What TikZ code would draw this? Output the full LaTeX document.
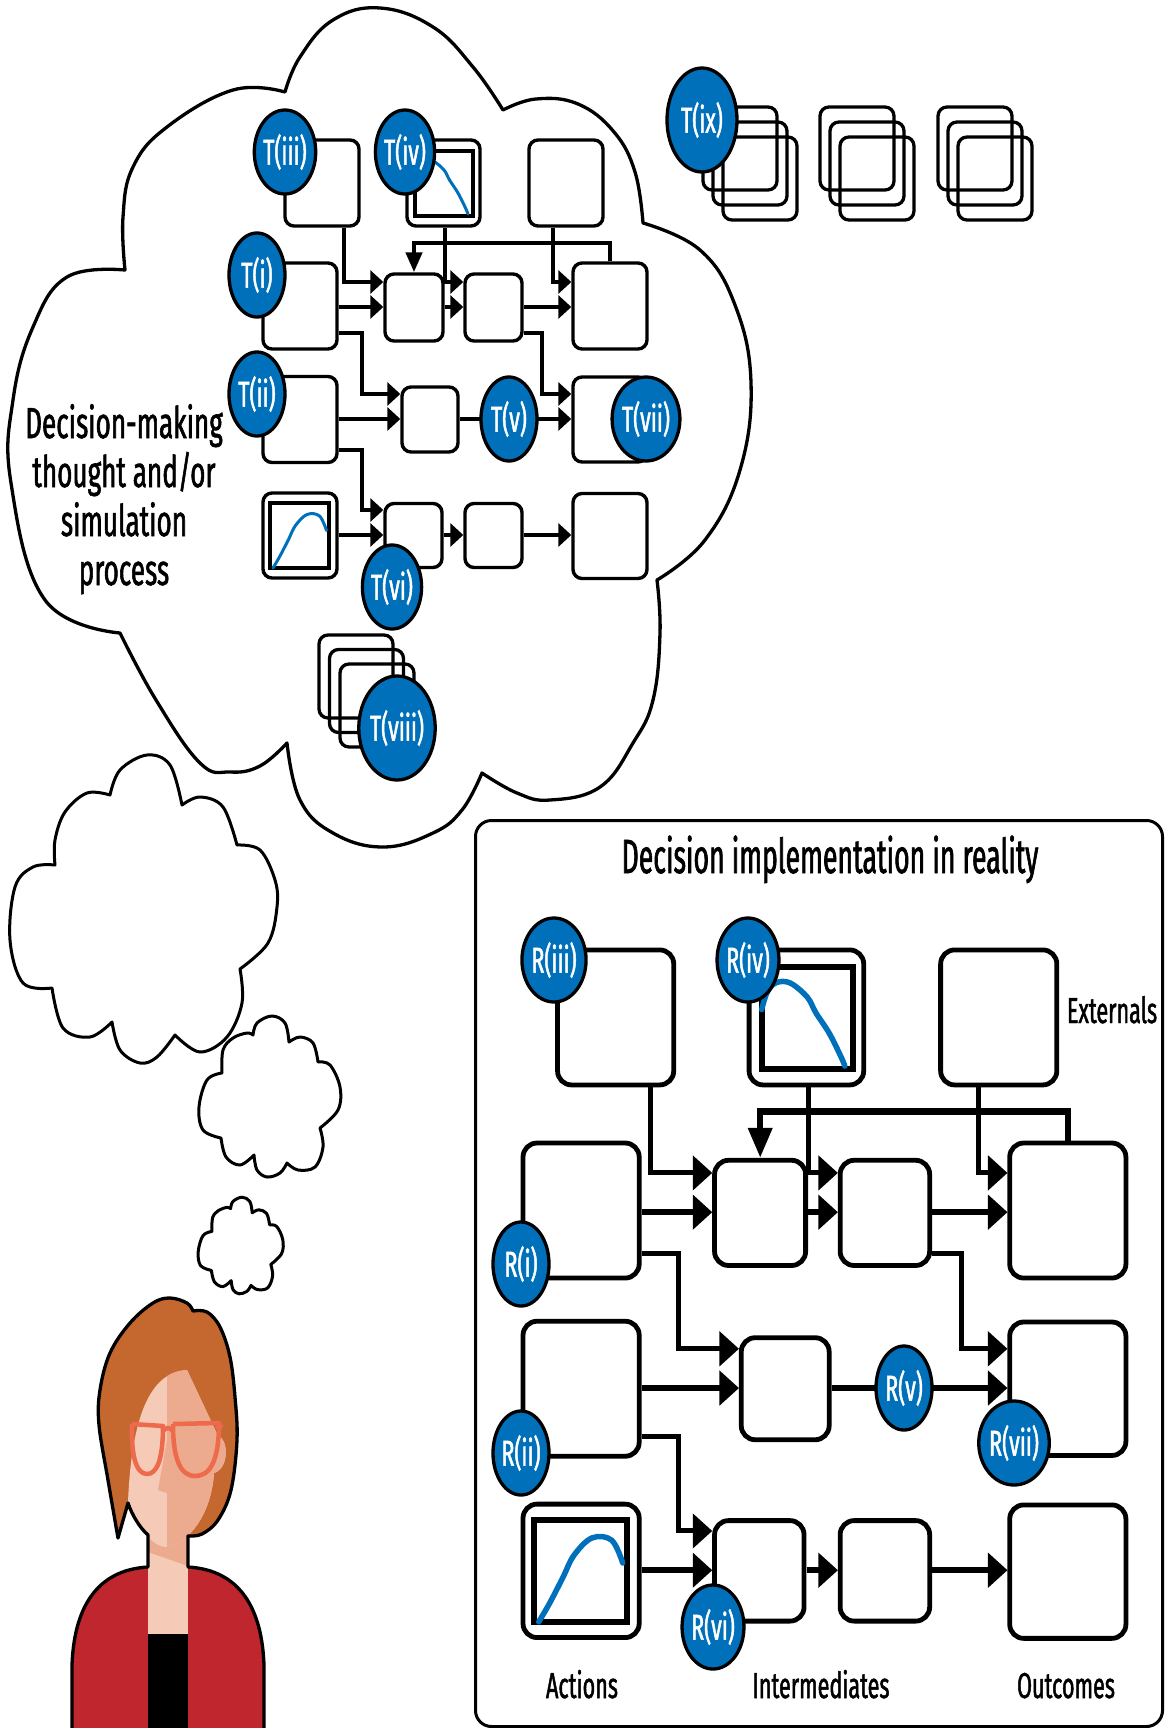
\documentclass[tikz,border=0pt]{standalone}
\usepackage{fontspec}
\setmainfont{Fira Sans}[FakeStretch=0.6, FakeBold=1.3]
\newfontfamily\headfamily{Fira Sans}[FakeStretch=0.555, FakeBold=1.3]
\usetikzlibrary{shapes.geometric, arrows.meta, calc}

\definecolor{tagblue}{RGB}{0,112,187}
\definecolor{hair}{RGB}{197,104,47}
\definecolor{skin}{RGB}{245,202,182}
\definecolor{skinshade}{RGB}{236,170,143}
\definecolor{specs}{RGB}{238,106,76}
\definecolor{jacket}{RGB}{192,38,46}

\newcommand\fnttitle{\headfamily\fontsize{48}{56}\selectfont}
\newcommand\fntcloud{\fontsize{43.5}{50}\selectfont}
\newcommand\fntlabel{\fontsize{36}{42}\selectfont}
\newcommand\fnttag{\fontsize{36}{42}\selectfont}

% per-diagram dimensions (overridden inside each scope)
\def\fcS{1}\def\fcBox{3.4pt}\def\fcRad{9pt}\def\fcConn{3.4pt}\def\fcMain{4.4pt}
\def\fcArL{13pt}\def\fcArW{23pt}\def\fcDnL{20pt}\def\fcDnW{16pt}\def\fcIn{3.8pt}\def\fcCurve{3pt}

\tikzset{
  cloudline/.style={draw=black, fill=white, line width=3.3pt, line join=round},
  box/.style 2 args={draw=black, fill=white, line width=\fcBox, rounded corners=\fcRad,
    inner sep=0pt, minimum width=#1*\fcS*1pt, minimum height=#2*\fcS*1pt},
  conn/.style={draw=black, line width=\fcConn, -{Triangle[length=\fcArL, width=\fcArW]}},
  mainconn/.style={conn, line width=\fcMain},
  feedback/.style={draw=black, line width=\fcMain, -{Triangle[length=\fcDnL, width=\fcDnW]}},
  chartframe/.style={draw=black, line width=\fcIn},
  chartline/.style={draw=tagblue, line width=\fcCurve, line cap=round, line join=round},
  tag/.style={ellipse, draw=black, fill=tagblue, line width=3.3pt, inner sep=0pt,
    minimum width=56pt, minimum height=84pt, text=white, font=\fnttag},
  bigtag/.style={tag, minimum width=70pt, minimum height=104pt},
  stackbox/.style={draw=black, line width=3.3pt, rounded corners=9pt, inner sep=0pt,
    minimum width=74pt, minimum height=83pt},
  caption/.style={anchor=base, text=black},
}

% flow of actions -> intermediates -> outcomes, drawn in the coordinates of the small copy
\newcommand\flowchart[1]{%
  \coordinate (#1r1a) at (0,282);
  \coordinate (#1r1b) at (0,307);
  \coordinate (#1r1c) at (0,333);
  \coordinate (#1r2a) at (0,394);
  \coordinate (#1r2b) at (0,419);
  \coordinate (#1r2c) at (0,450);
  \coordinate (#1r3a) at (0,510);
  \coordinate (#1r3b) at (0,535);
  \coordinate (#1fb)  at (0,243);
  \coordinate (#1c1) at (344,0);
  \coordinate (#1c2) at (445,0);
  \coordinate (#1c3) at (553,0);
  \coordinate (#1c4) at (362,0);
  \coordinate (#1c5) at (542,0);
  % externals
  \node[box={74}{86}] (#1ext1) at (322,183) {};
  \node[box={73}{86}] (#1ext2) at (443.5,183) {};
  \node[box={74}{86}] (#1ext3) at (566,183) {};
  % actions
  \node[box={74}{86}] (#1act1) at (300,306) {};
  \node[box={74}{86}] (#1act2) at (300,419.5) {};
  \node[box={74}{85}] (#1act3) at (300,535.5) {};
  % intermediates
  \node[box={58}{67}] (#1midA) at (414,307.5) {};
  \node[box={57}{67}] (#1midB) at (493.5,307.5) {};
  \node[box={56}{65}] (#1midD) at (430,419.5) {};
  \node[box={57}{64}] (#1midG) at (413.5,535.5) {};
  \node[box={57}{64}] (#1midH) at (493.5,535.5) {};
  % outcomes
  \node[box={74}{86}] (#1out1) at (610,306) {};
  \node[box={74}{85}] (#1out2) at (610,419.5) {};
  \node[box={74}{85}] (#1out3) at (610,536) {};
  % small charts
  \draw[chartframe] (415,151) rectangle (473,216);
  \draw[chartline] plot[smooth, tension=0.6] coordinates {(415,178) (418.5,167) (424,161) (433,161) (444,170) (449.5,180) (458,193) (465.5,208) (468,214)};
  \draw[chartframe] (270,503) rectangle (329,568);
  \draw[chartline] plot[smooth, tension=0.6] coordinates {(273,568) (280,556) (288.5,539.5) (295.5,525.5) (307,514.5) (319.5,516) (326.5,530.5)};
  % connectors
  \draw[conn] (#1ext1.south -| #1c1) |- (#1midA.west |- #1r1a);
  \draw[conn] (#1ext2.south -| #1c2) |- (#1midB.west |- #1r1a);
  \draw[conn] (#1ext3.south -| #1c3) |- (#1out1.west |- #1r1a);
  \draw[mainconn] (#1act1.east |- #1r1b) -- (#1midA.west |- #1r1b);
  \draw[mainconn] (#1midA.east |- #1r1b) -- (#1midB.west |- #1r1b);
  \draw[mainconn] (#1midB.east |- #1r1b) -- (#1out1.west |- #1r1b);
  \draw[conn] (#1act1.east |- #1r1c) -| (#1c4 |- #1r2a) -- (#1midD.west |- #1r2a);
  \draw[conn] (#1midB.east |- #1r1c) -| (#1c5 |- #1r2a) -- (#1out2.west |- #1r2a);
  \draw[mainconn] (#1act2.east |- #1r2b) -- (#1midD.west |- #1r2b);
  \draw[mainconn] (#1midD.east |- #1r2b) -- (#1out2.west |- #1r2b);
  \draw[conn] (#1act2.east |- #1r2c) -| (#1c4 |- #1r3a) -- (#1midG.west |- #1r3a);
  \draw[mainconn] (#1act3.east |- #1r3b) -- (#1midG.west |- #1r3b);
  \draw[mainconn] (#1midG.east |- #1r3b) -- (#1midH.west |- #1r3b);
  \draw[mainconn] (#1midH.east |- #1r3b) -- (#1out3.west |- #1r3b);
  \draw[feedback] (#1out1.north) |- (#1midA.north |- #1fb) -- (#1midA.north);
}

% small thought bubble outline
\newcommand\puffcloud{%
  \draw[cloudline, line width=3pt]
    plot[smooth, tension=0.6] coordinates {(222,1073) (223,1050) (233,1038) (247,1033) (253,1035)}
    -- plot[smooth, tension=0.6] coordinates {(253,1035) (257,1023) (272,1016) (285,1023) (289,1042)}
    -- plot[smooth, tension=0.6] coordinates {(289,1042) (300,1037) (313,1043) (318,1062)}
    -- plot[smooth, tension=0.6] coordinates {(318,1062) (330,1065) (340,1087) (338,1110) (320,1128)}
    -- plot[smooth, tension=0.6] coordinates {(320,1128) (323,1147) (315,1167) (298,1170) (287,1163)}
    -- plot[smooth, tension=0.6] coordinates {(287,1163) (280,1173) (267,1177) (257,1170) (254,1155)}
    -- plot[smooth, tension=0.6] coordinates {(254,1155) (240,1165) (226,1157) (221,1138)}
    -- plot[smooth, tension=0.6] coordinates {(221,1138) (203,1130) (199,1107) (207,1080) (222,1073)}
    -- cycle;
}

\newcommand\facepath{(187,1370) -- (218,1436) .. controls (228,1438) and (230,1468) .. (214,1473)
  .. controls (212,1505) and (196,1540) .. (167,1547) .. controls (152,1547) and (138,1528) .. (128,1502)
  .. controls (131,1430) and (145,1372) .. (187,1370) -- cycle}

\begin{document}
\begin{tikzpicture}[x=1pt, y=-1pt]
\useasboundingbox (0,0) rectangle (1165,1728);
\fill[white] (0,0) rectangle (1165,1728);

% ---------- large thought cloud ----------
\draw[cloudline]
  plot[smooth, tension=0.7] coordinates {(125,270) (123,217) (133,167) (167,127) (233,90) (285,92)}
  -- plot[smooth, tension=0.7] coordinates {(285,92) (300,57) (333,20) (380,8) (433,27) (473,67) (503,110)}
  -- plot[smooth, tension=0.7] coordinates {(503,110) (536,99) (578,104) (614,132) (635,172) (643,223)}
  -- plot[smooth, tension=0.7] coordinates {(643,223) (700,250) (735,305) (751,383) (740,470) (705,540) (657,580)}
  -- plot[smooth, tension=0.7] coordinates {(657,580) (660,633) (653,700) (633,743) (600,787) (550,800) (517,793) (482,773)}
  -- plot[smooth, tension=0.7] coordinates {(482,773) (462,810) (433,833) (383,847) (333,833) (300,800) (287,743)}
  -- plot[smooth, tension=0.7] coordinates {(287,743) (260,766) (230,772) (200,763) (156,700) (120,633)}
  -- plot[smooth, tension=0.7] coordinates {(120,633) (45,600) (11,483) (13,400) (33,327) (67,277) (125,270)}
  -- cycle;

% ---------- smaller thought clouds ----------
\draw[cloudline, line width=3pt]
  plot[smooth, tension=0.6] coordinates {(55,865) (55,840) (65,812) (87,793) (110,795)}
  -- plot[smooth, tension=0.6] coordinates {(110,795) (120,770) (147,755) (170,765) (182,805)}
  -- plot[smooth, tension=0.6] coordinates {(182,805) (200,797) (223,807) (237,845)}
  -- plot[smooth, tension=0.6] coordinates {(237,845) (260,850) (275,880) (277,907) (268,943) (240,969)}
  -- plot[smooth, tension=0.6] coordinates {(240,969) (242,1003) (227,1037) (200,1052) (175,1035)}
  -- plot[smooth, tension=0.6] coordinates {(175,1035) (157,1057) (140,1063) (120,1050) (112,1022)}
  -- plot[smooth, tension=0.6] coordinates {(112,1022) (90,1037) (63,1028) (52,988)}
  -- plot[smooth, tension=0.6] coordinates {(52,988) (23,983) (10,940) (15,887) (33,867) (55,865)}
  -- cycle;
\puffcloud
\begin{scope}[shift={(78.8,587.6)}, scale=0.6]
  \puffcloud
\end{scope}

% ---------- person ----------
\fill[hair]
  plot[smooth, tension=0.6] coordinates {(118,1538) (108,1480) (99,1425) (100,1390) (110,1353) (130,1323) (153,1303) (170,1298) (187,1303) (193,1311)}
  -- plot[smooth, tension=0.6] coordinates {(193,1311) (207,1312) (220,1327) (230,1357) (235,1397) (237,1440) (231,1490) (218,1520) (202,1534) (188,1536)}
  -- (188,1545) -- (148,1545) -- (148,1535) -- (128,1503) -- cycle;
\fill[skin] (148,1525) rectangle (188,1634);
\fill[skinshade] (148,1525) -- (188,1525) -- (188,1566) -- (148,1552) -- cycle;
\fill[skin] \facepath;
\begin{scope}
  \clip \facepath;
  \fill[skinshade] (167,1360) -- (240,1360) -- (240,1560) -- (167,1560) -- (167,1493) -- (158,1490) -- (167,1440) -- cycle;
\end{scope}
\begin{scope}[draw=specs, line width=4.5pt, line join=round]
  \draw (132,1424) -- (163,1426) .. controls (163,1462) and (156,1474) .. (147,1474) .. controls (136,1474) and (131,1455) .. (132,1424);
  \draw (173,1424) -- (219,1423) .. controls (219,1465) and (208,1476) .. (195,1476) .. controls (180,1476) and (173,1458) .. (173,1424);
  \draw (163,1431) .. controls (166,1427) and (170,1427) .. (173,1431);
  \draw[line width=6pt] (216,1425) -- (222,1428);
\end{scope}
\fill[jacket] (72,1730) -- (72,1665) .. controls (74,1610) and (95,1570) .. (148,1567) -- (188,1567)
  .. controls (241,1570) and (262,1610) .. (264,1665) -- (264,1730) -- cycle;
\fill[skin] (148,1566) rectangle (188,1634);
\fill[black] (148,1634) rectangle (188,1730);
\draw[line width=3.3pt, line join=round]
  (72,1730) -- (72,1665) .. controls (74,1610) and (95,1570) .. (148,1567) -- (148,1535)
  .. controls (140,1528) and (132,1515) .. (128,1503) -- (118,1538)
  -- plot[smooth, tension=0.6] coordinates {(118,1538) (108,1480) (99,1425) (100,1390) (110,1353) (130,1323) (153,1303) (170,1298) (187,1303) (193,1311)}
  -- plot[smooth, tension=0.6] coordinates {(193,1311) (207,1312) (220,1327) (230,1357) (235,1397) (237,1440) (231,1490) (218,1520) (202,1534) (188,1536)}
  -- (188,1567) .. controls (241,1570) and (262,1610) .. (264,1665) -- (264,1730);

% ---------- thought process ----------
\begin{scope}
  \flowchart{T}
\end{scope}
\node[tag] (Tiii) at (285,152) {T(iii)};
\node[tag] (Tiv)  at (405,152) {T(iv)};
\node[tag] (Ti)   at (257,275) {T(i)};
\node[tag] (Tii)  at (257,394) {T(ii)};
\node[tag] (Tv)   at (509,419) {T(v)};
\node[tag] (Tvii) at (646,419) {T(vii)};
\node[tag] (Tvi)  at (392,587) {T(vi)};

% alternative scenarios inside the cloud
\node[stackbox] (viiiA) at (356,676.5) {};
\node[stackbox] (viiiB) at (366.5,691) {};
\node[stackbox] (viiiC) at (377,705.5) {};
\node[bigtag] (Tviii) at (397,728) {T(viii)};

% alternative scenarios outside the cloud
\foreach \gx [count=\g] in {0,117,235}{
  \node[stackbox] (ix\g a) at (740+\gx,148.5) {};
  \node[stackbox] (ix\g b) at (750+\gx,163.5) {};
  \node[stackbox] (ix\g c) at (760+\gx,178.5) {};
}
\node[bigtag] (Tix) at (702,120) {T(ix)};

\node[caption, font=\fntcloud] (cl1) at (124,438) {Decision-making};
\node[caption, font=\fntcloud] (cl2) at (124,487) {thought and/or};
\node[caption, font=\fntcloud] (cl3) at (124,536) {simulation};
\node[caption, font=\fntcloud] (cl4) at (124,585) {process};

% ---------- implementation in reality ----------
\node[draw=black, line width=3pt, rounded corners=16pt, inner sep=0pt, anchor=north west,
  minimum width=687pt, minimum height=906pt] (realframe) at (474,819) {};
\node[caption, font=\fnttitle] (realtitle) at (830,873) {Decision implementation in reality};
\begin{scope}[shift={(110.1,730.1)}, scale=1.57]
  \def\fcS{1.57}\def\fcBox{4.8pt}\def\fcRad{14pt}\def\fcConn{5pt}\def\fcMain{6.5pt}
  \def\fcArL{19.5pt}\def\fcArW{34pt}\def\fcDnL{30pt}\def\fcDnW{23pt}\def\fcIn{6pt}\def\fcCurve{5.5pt}
  \flowchart{R}
\end{scope}
\node[tag] (Riii) at (554,960)  {R(iii)};
\node[tag] (Riv)  at (748,960)  {R(iv)};
\node[tag] (Ri)   at (521,1264) {R(i)};
\node[tag] (Rii)  at (521,1453) {R(ii)};
\node[tag] (Rv)   at (904,1388) {R(v)};
\node[tag] (Rvii) at (1014,1443) {R(vii)};
\node[tag] (Rvi)  at (713,1627) {R(vi)};

\node[caption, font=\fntlabel] (extlabel) at (1112,1023) {Externals};
\node[caption, font=\fntlabel] (actlabel) at (582,1698) {Actions};
\node[caption, font=\fntlabel] (midlabel) at (821,1698) {Intermediates};
\node[caption, font=\fntlabel] (outlabel) at (1066,1698) {Outcomes};
\end{tikzpicture}
\end{document}
